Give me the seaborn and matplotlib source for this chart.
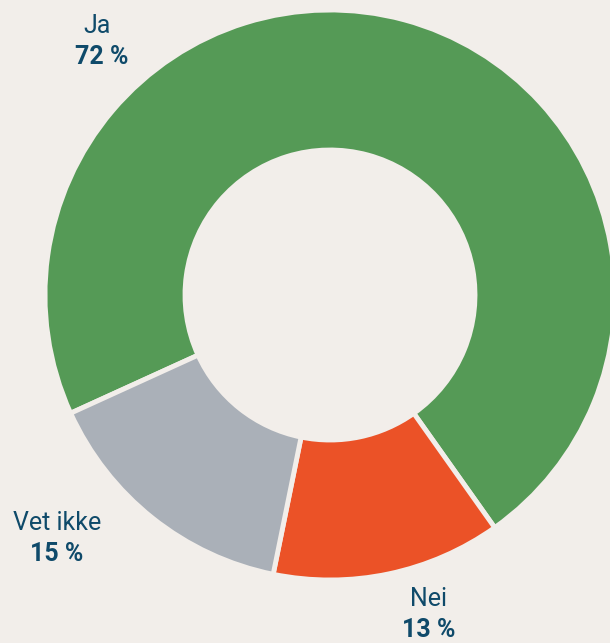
import matplotlib
matplotlib.use("Agg")
import matplotlib.pyplot as plt
import seaborn as sns

# survey answers (share of respondents, %)
labels = ["Ja", "Nei", "Vet ikke"]
values = [72, 13, 15]
colors = ["#559a56", "#eb5227", "#aab0b8"]

bg = "#f2eeea"
text_col = "#0f4a6a"

sns.set_theme(style="white", rc={"figure.facecolor": bg, "axes.facecolor": bg})
plt.rcParams["font.family"] = ["Roboto", "DejaVu Sans"]

fig = plt.figure(figsize=(6.1, 6.43), dpi=100)
ax = fig.add_axes([0, 0, 1, 1])

# donut drawn in pixel-like coordinates of the figure
cx, cy, r_out = 330, 348, 285
ax.pie(values, colors=colors, startangle=204.5, counterclock=False,
       center=(cx, cy), radius=r_out,
       wedgeprops=dict(width=140, edgecolor=bg, linewidth=3.5))

ax.set_xlim(0, 610)
ax.set_ylim(0, 643)
ax.set_aspect("equal")
ax.axis("off")

# label positions (x, y of the name line)
label_pos = {"Ja": (97, 617), "Nei": (429, 44), "Vet ikke": (57, 120)}
for lab, val in zip(labels, values):
    x, y = label_pos[lab]
    ax.text(x, y, lab, ha="center", va="center", fontsize=18, color=text_col)
    ax.text(x + (5 if lab == "Ja" else 0), y - 31, f"{val} %", ha="center", va="center",
            fontsize=18, fontweight="bold", color=text_col)

plt.savefig("out.png", dpi=100, facecolor=bg)
